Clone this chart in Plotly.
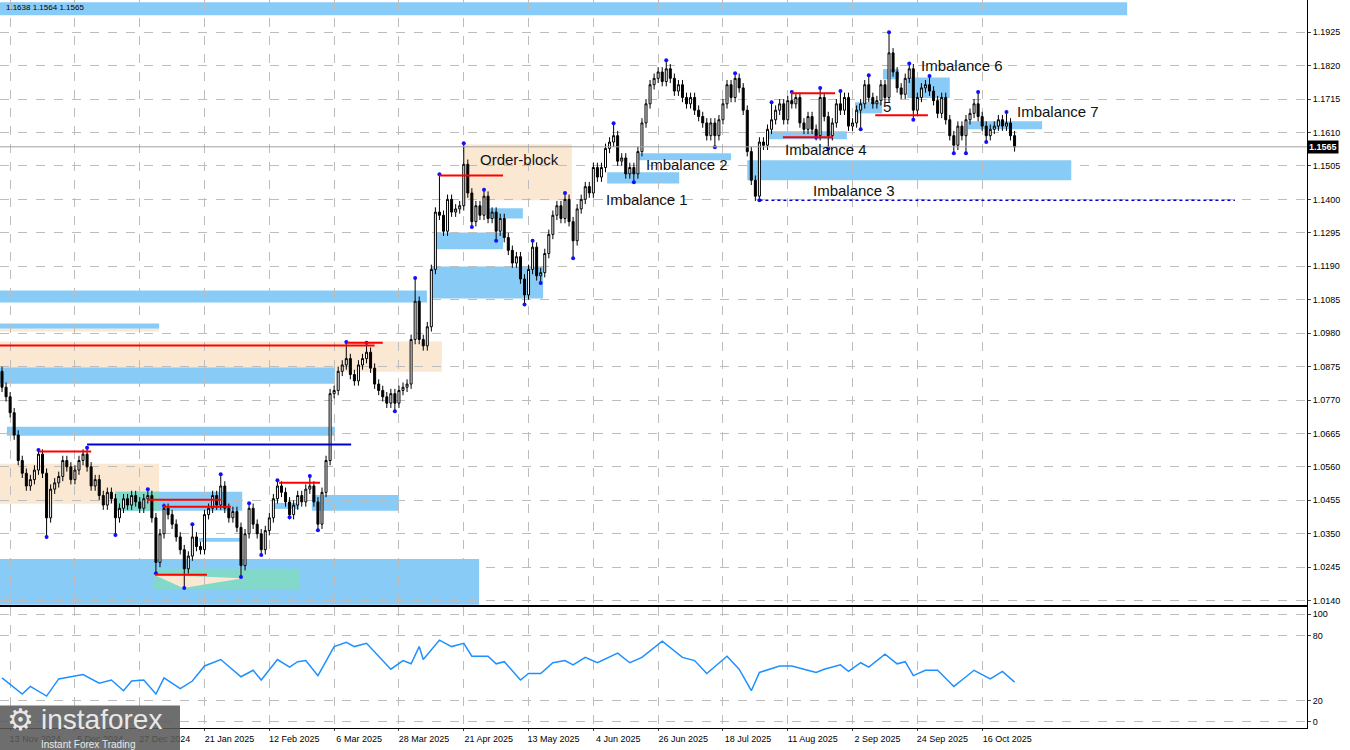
import plotly.graph_objects as go
from plotly.subplots import make_subplots

closes = [1.081,1.078,1.073,1.066,1.058,1.054,1.050,1.052,1.055,1.060,
1.054,1.040,1.049,1.051,1.053,1.058,1.056,1.052,1.055,1.058,
1.060,1.056,1.050,1.052,1.047,1.044,1.048,1.046,1.040,1.043,
1.046,1.044,1.047,1.045,1.043,1.046,1.047,1.040,1.026,1.035,
1.043,1.041,1.038,1.034,1.030,1.024,1.028,1.034,1.031,1.030,
1.041,1.043,1.047,1.044,1.050,1.043,1.040,1.042,1.037,1.025,
1.035,1.043,1.038,1.035,1.030,1.036,1.040,1.046,1.050,1.048,
1.045,1.041,1.044,1.047,1.045,1.049,1.050,1.045,1.038,1.048,
1.058,1.079,1.080,1.086,1.088,1.090,1.085,1.083,1.088,1.090,
1.092,1.087,1.082,1.080,1.078,1.076,1.079,1.076,1.080,1.081,
1.082,1.096,1.108,1.096,1.094,1.100,1.118,1.136,1.135,1.130,
1.140,1.136,1.137,1.138,1.151,1.142,1.133,1.138,1.135,1.141,
1.134,1.136,1.130,1.134,1.128,1.124,1.120,1.122,1.115,1.110,
1.118,1.125,1.116,1.117,1.123,1.129,1.135,1.138,1.134,1.140,
1.133,1.127,1.137,1.140,1.144,1.142,1.150,1.147,1.150,1.156,
1.158,1.160,1.152,1.153,1.148,1.150,1.148,1.155,1.164,1.170,
1.176,1.178,1.180,1.177,1.181,1.178,1.174,1.176,1.172,1.170,
1.172,1.168,1.166,1.164,1.160,1.164,1.160,1.165,1.170,1.176,
1.172,1.178,1.175,1.168,1.155,1.146,1.141,1.158,1.157,1.162,
1.165,1.168,1.170,1.165,1.171,1.170,1.172,1.164,1.162,1.166,
1.162,1.160,1.172,1.166,1.160,1.164,1.170,1.168,1.172,1.163,
1.164,1.168,1.170,1.176,1.172,1.170,1.171,1.176,1.172,1.186,
1.180,1.175,1.173,1.178,1.181,1.168,1.172,1.175,1.176,1.174,
1.171,1.167,1.172,1.165,1.160,1.157,1.163,1.160,1.165,1.167,
1.170,1.166,1.163,1.160,1.162,1.163,1.165,1.163,1.164,1.160,
1.1565]
first_open = 1.086

swing_highs = {9:1.0613,21:1.062,36:1.049,40:1.0437,47:1.038,54:1.0537,61:1.0446,68:1.0518,
76:1.0531,85:1.0952,90:1.095,102:1.1153,108:1.1479,114:1.1576,119:1.143,131:1.127,139:1.142,
151:1.1639,164:1.1837,181:1.1796,190:1.1705,195:1.1737,202:1.175,207:1.174,214:1.179,
219:1.1925,224:1.1827,229:1.1787,241:1.1737,248:1.1674}
swing_lows = {11:1.034,28:1.0346,38:1.0226,45:1.018,59:1.0214,64:1.0283,71:1.0402,78:1.0361,
97:1.0735,116:1.1313,122:1.127,129:1.107,133:1.1137,141:1.1215,156:1.1454,176:1.1564,
187:1.1397,201:1.1595,204:1.156,212:1.162,225:1.165,235:1.1545,238:1.1545,243:1.158}

osc_idx = [0,5,7,11,14,20,24,27,30,32,35,38,40,44,47,50,54,59,62,64,68,71,73,75,78,82,85,87,90,93,
96,99,101,103,104,108,111,114,116,120,122,124,128,130,133,136,139,141,144,147,152,155,158,163,168,
171,174,179,182,185,187,192,195,198,201,203,207,209,212,214,218,221,223,225,228,231,235,237,240,244,247,250]
osc_val = [41,26,33,24,40,44,36,39,29,38,39,26,41,31,38,52,58,42,48,39,58,51,56,57,43,70,74,70,73,61,
49,57,54,70,58,76,70,73,61,61,54,56,39,45,45,55,57,53,60,55,64,55,60,75,60,57,45,61,49,29,
46,52,52,49,46,49,53,47,55,51,63,54,56,43,48,48,33,39,48,40,47,37]

date_idx = [2,18,34,50,66,82,98,114,130,146,162,178,194,210,226,242]
date_lbl = ["13 Nov 2024","5 Dec 2024","27 Dec 2024","21 Jan 2025","12 Feb 2025","6 Mar 2025","28 Mar 2025",
"21 Apr 2025","13 May 2025","4 Jun 2025","26 Jun 2025","18 Jul 2025","11 Aug 2025","2 Sep 2025",
"24 Sep 2025","16 Oct 2025"]
price_ticks = [1.1925,1.1820,1.1715,1.1610,1.1505,1.1400,1.1295,1.1190,1.1085,1.0980,1.0875,1.0770,
1.0665,1.0560,1.0455,1.0350,1.0245,1.0140]

BLUE = "#88CBF6"; PEACH = "#FAE8D2"; TEAL = "#82D9C9"
zones = [
 (-1,277.8,1.2019,1.1978,BLUE),
 (-1,104.9,1.1114,1.1076,BLUE),
 (-1,38.8,1.1010,1.0994,BLUE),
 (-1,38.8,1.0994,1.0985,PEACH),
 (-1,108.6,1.0954,1.0859,PEACH),
 (-1,82.2,1.0872,1.0821,BLUE),
 (1.2,82.2,1.0686,1.0658,BLUE),
 (-1,38.8,1.0570,1.0444,PEACH),
 (27.9,59.3,1.0482,1.0422,BLUE),
 (27.9,38.8,1.0482,1.0422,TEAL),
 (66.7,73.3,1.0447,1.0428,BLUE),
 (76.5,98,1.0472,1.0422,BLUE),
 (48.6,59.3,1.0337,1.0325,BLUE),
 (-1,117.8,1.0271,1.0127,BLUE),
 (37.5,73.3,1.0240,1.0174,TEAL),
 (114,140.7,1.1573,1.1397,PEACH),
 (105.9,133.6,1.1189,1.1089,BLUE),
 (106.9,123.7,1.1296,1.1243,BLUE),
 (119.8,128.6,1.1372,1.1340,BLUE),
 (149.4,167.2,1.1485,1.1450,BLUE),
 (157.3,180,1.1545,1.1523,BLUE),
 (184,264,1.1523,1.1460,BLUE),
 (189,208.6,1.1614,1.1589,BLUE),
 (210.6,217.3,1.1705,1.1670,BLUE),
 (217.5,221.5,1.1809,1.1777,BLUE),
 (223.5,234,1.1783,1.1718,BLUE),
 (238.5,256.8,1.1645,1.1620,BLUE),
]
levels = [
 (-1,92,1.0941,"#FF0000","solid"),(85.2,94,1.0950,"#FF0000","solid"),
 (9.1,22,1.0608,"#FF0000","solid"),(35.8,54.3,1.0457,"#FF0000","solid"),
 (39.8,56.5,1.0435,"#FF0000","solid"),(37.8,50.6,1.0221,"#FF0000","solid"),
 (68.4,78.5,1.0510,"#FF0000","solid"),(107.9,123.7,1.1475,"#FF0000","solid"),
 (194.8,205.7,1.1733,"#FF0000","solid"),(192.8,205.2,1.1595,"#FF0000","solid"),
 (215.6,228.6,1.1664,"#FF0000","solid"),
 (21,86.2,1.0630,"#0000CC","solid"),(187,304.4,1.1397,"#0000CC","dot"),
]
labels = [("Order-block",127.7,1.1526),("Imbalance 1",159.3,1.1400),("Imbalance 2",169,1.1510),
("Imbalance 3",210.4,1.1428),("Imbalance 4",203.5,1.1557),("5",218.5,1.1692),
("Imbalance 6",237,1.1821),("Imbalance 7",260.7,1.1677)]

n = len(closes)
idx = list(range(n))
opens = [first_open] + closes[:-1]
highs, lows = [], []
for i in idx:
    hi = max(opens[i], closes[i]) + 0.0015
    lo = min(opens[i], closes[i]) - 0.0015
    highs.append(max(hi, swing_highs.get(i, hi)))
    lows.append(min(lo, swing_lows.get(i, lo)))

fig = make_subplots(rows=2, cols=1, shared_xaxes=True, vertical_spacing=0.003,
                    row_heights=[0.832, 0.166])

shapes = []
for x0, x1, t, b, c in zones:
    shapes.append(dict(type="rect", xref="x", yref="y", x0=x0, x1=x1, y0=b, y1=t,
                       fillcolor=c, line_width=0, layer="below"))
shapes.append(dict(type="path", xref="x", yref="y", layer="below", line_width=0, fillcolor=PEACH,
                   path="M 37.5 1.0221 L 44.7 1.0180 L 59.5 1.0210 Z"))
for x0, x1, p, c, d in levels:
    shapes.append(dict(type="line", xref="x", yref="y", x0=x0, x1=x1, y0=p, y1=p,
                       line=dict(color=c, width=2 if d == "solid" else 1.5, dash=d)))
shapes.append(dict(type="line", xref="paper", yref="y", x0=0, x1=1, y0=closes[-1], y1=closes[-1],
                   line=dict(color="#A0A0A0", width=1)))
shapes.append(dict(type="rect", xref="paper", yref="paper", x0=0, x1=180/1307, y0=-0.031, y1=0.031,
                   fillcolor="rgba(90,90,90,0.88)", line_width=0))

fig.add_trace(go.Candlestick(x=idx, open=opens, high=highs, low=lows, close=closes,
    increasing=dict(fillcolor="white", line=dict(color="black", width=1)),
    decreasing=dict(fillcolor="black", line=dict(color="black", width=1)),
    whiskerwidth=0, showlegend=False, hoverinfo="skip"), row=1, col=1)

hx = list(swing_highs.keys()); hy = list(swing_highs.values())
lx = list(swing_lows.keys()); ly = list(swing_lows.values())
fig.add_trace(go.Scatter(x=hx + lx, y=hy + ly, mode="markers",
    marker=dict(color="#1010FF", size=4), showlegend=False), row=1, col=1)

fig.add_trace(go.Scatter(x=osc_idx, y=osc_val, mode="lines",
    line=dict(color="#1E90FF", width=1.5), showlegend=False), row=2, col=1)

ann = []
for t, x, y in labels:
    ann.append(dict(text=t, x=x, y=y, xref="x", yref="y", showarrow=False,
                    font=dict(family="Liberation Sans", size=15, color="#111")))
ann.append(dict(text="1.1638 1.1564 1.1565", x=0.003, y=0.998, xref="paper", yref="paper",
                xanchor="left", yanchor="top", showarrow=False,
                font=dict(family="Liberation Sans", size=8, color="black")))
ann.append(dict(text="<b>%.4f</b>" % closes[-1], x=1.0, y=closes[-1], xref="paper", yref="y",
                xanchor="left", showarrow=False, bgcolor="black", borderpad=1,
                font=dict(family="Liberation Sans", size=9, color="white")))
ann.append(dict(text="instaforex", x=0.03, y=0.012, xref="paper", yref="paper", xanchor="left",
                yanchor="middle", showarrow=False, font=dict(family="Liberation Sans", size=28, color="#E8E8E8")))
ann.append(dict(text="Instant Forex Trading", x=0.03, y=-0.022, xref="paper", yref="paper", xanchor="left",
                yanchor="middle", showarrow=False, font=dict(family="Liberation Sans", size=10, color="#E8E8E8")))
ann.append(dict(text="⚙", x=0.004, y=0.012, xref="paper", yref="paper", xanchor="left",
                yanchor="middle", showarrow=False, font=dict(size=30, color="#E8E8E8")))

grid = dict(showgrid=True, gridcolor="#BDBDBD", griddash="dash", gridwidth=1)
fig.update_layout(width=1350, height=750, margin=dict(l=0, r=43, t=0, b=22, autoexpand=False),
    plot_bgcolor="white", paper_bgcolor="white", shapes=shapes, annotations=ann,
    font=dict(family="Liberation Sans", size=9, color="black"))
fig.update_xaxes(range=[-0.5, 322.2], rangeslider_visible=False, showline=True, linecolor="black",
    mirror=True, zeroline=False, automargin=False, **grid, tickmode="array", tickvals=date_idx, ticktext=date_lbl)
fig.update_xaxes(showticklabels=False, row=1, col=1)
fig.update_xaxes(ticks="outside", ticklen=2, ticklabelshift=25, tickfont=dict(size=9), row=2, col=1)
fig.update_yaxes(side="right", range=[1.0126, 1.2026], tickmode="array", tickvals=price_ticks,
    ticktext=["%.4f" % v for v in price_ticks], showline=True, linecolor="black", mirror=True,
    zeroline=False, ticks="outside", ticklen=3, automargin=False, **grid, row=1, col=1)
fig.update_yaxes(side="right", range=[-5.6, 106.5], tickmode="array", tickvals=[0, 20, 80, 100],
    showline=True, linecolor="black", mirror=True, zeroline=False, ticks="outside", ticklen=3,
    automargin=False, **grid, row=2, col=1)

fig.write_html("out.html", config={"displayModeBar": False},
               post_script="document.body.style.margin='0';document.body.style.overflow='hidden';")
